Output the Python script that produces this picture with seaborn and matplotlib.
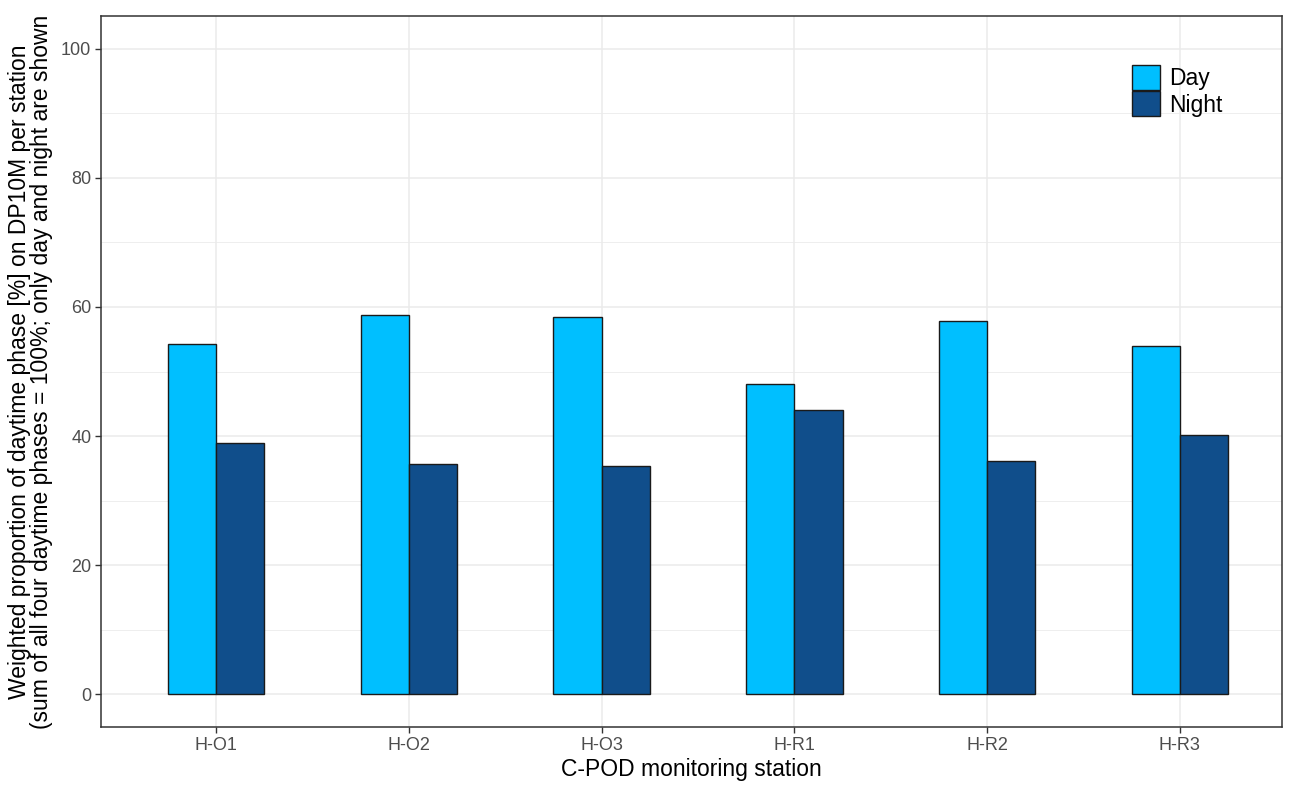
import matplotlib
matplotlib.use("Agg")
import matplotlib.pyplot as plt
import seaborn as sns
import pandas as pd

stations = ["H-O1", "H-O2", "H-O3", "H-R1", "H-R2", "H-R3"]
day_values = [54.3, 58.8, 58.5, 48.0, 57.9, 53.9]
night_values = [38.9, 35.7, 35.4, 44.0, 36.2, 40.1]
phases = ["Day", "Night"]
phase_colors = {"Day": "#00BFFF", "Night": "#104E8B"}
y_ticks = [0, 20, 40, 60, 80, 100]

df = pd.DataFrame({
    "station": stations * 2,
    "phase": ["Day"] * len(stations) + ["Night"] * len(stations),
    "value": day_values + night_values,
})

sns.set_theme(style="white")
plt.rcParams["font.family"] = ["Liberation Sans", "DejaVu Sans"]

fig = plt.figure(figsize=(12.93, 7.87), dpi=100)
ax = fig.add_axes([0.0781, 0.0762, 0.9915 - 0.0781, 0.9797 - 0.0762])

sns.barplot(data=df, x="station", y="value", hue="phase", order=stations,
            hue_order=phases, palette=phase_colors, saturation=1, width=0.5, gap=0,
            edgecolor="#1a1a1a", linewidth=1.0, ax=ax, zorder=3)

ax.set_xlim(-0.597, 5.53)
ax.set_ylim(-5.1, 105.1)
ax.set_yticks(y_ticks)
ax.set_yticks([10, 30, 50, 70, 90], minor=True)
ax.grid(True, which="major", color="#EBEBEB", linewidth=1.1, zorder=0)
ax.grid(True, which="minor", axis="y", color="#EBEBEB", linewidth=0.6, zorder=0)
ax.set_axisbelow(True)

for s in ax.spines.values():
    s.set_color("#333333")
    s.set_linewidth(1.1)

ax.tick_params(axis="both", which="major", length=4, width=1.0, color="#333333",
               labelsize=13, labelcolor="#4D4D4D", direction="out",
               left=True, bottom=True, pad=3)
ax.tick_params(axis="y", which="minor", length=0)

ax.set_xlabel("C-POD monitoring station", fontsize=16.5, color="black", labelpad=3)
ax.set_ylabel("Weighted proportion of daytime phase [%] on DP10M per station\n"
              "(sum of all four daytime phases = 100%; only day and night are shown",
              fontsize=16.5, color="black", labelpad=6, linespacing=0.9)

handles, labels = ax.get_legend_handles_labels()
ax.legend(handles, labels, loc="upper left", bbox_to_anchor=(0.873, 0.931),
          frameon=False, fontsize=16.5, handlelength=1.2, handleheight=1.3,
          labelspacing=0.05, handletextpad=0.4, borderpad=0, borderaxespad=0,
          title=None, labelcolor="black")

fig.savefig("out.png", dpi=100)
